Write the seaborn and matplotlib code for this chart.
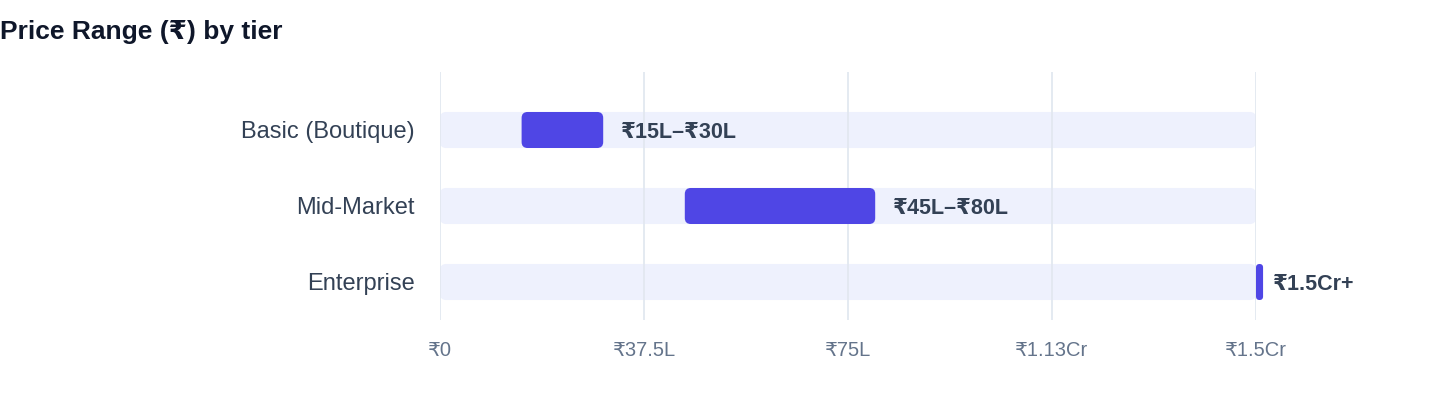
import matplotlib
matplotlib.use("Agg")
import matplotlib.pyplot as plt
import seaborn as sns
import pandas as pd
from matplotlib.patches import FancyBboxPatch

# Data (values in lakhs of rupees)
tiers = ["Basic (Boutique)", "Mid-Market", "Enterprise"]
low = [15, 45, 150]
high = [30, 80, 150]
range_labels = ["₹15L–₹30L", "₹45L–₹80L", "₹1.5Cr+"]
axis_max = 150
xticks = [0, 37.5, 75, 112.5, 150]
xtick_labels = ["₹0", "₹37.5L", "₹75L", "₹1.13Cr", "₹1.5Cr"]

INDIGO = "#4F46E5"
TRACK = "#EEF1FD"
GRID = "#E2E8F0"
DARK = "#334155"
MUTED = "#64748B"

sns.set_theme(style="white")
plt.rcParams["font.family"] = ["Liberation Sans", "DejaVu Sans"]

df = pd.DataFrame({"tier": tiers, "low": low, "high": high})
# a range that has no width still gets a small visible pill
df["width"] = (df["high"] - df["low"]).clip(lower=1.3)
df["track"] = axis_max

fig = plt.figure(figsize=(14.4, 4.08), dpi=100)
ax = fig.add_axes([440 / 1440, 1 - 320 / 408, 816 / 1440, 248 / 408])

# background track
sns.barplot(data=df, x="track", y="tier", orient="h", color=TRACK,
            width=0.474, ax=ax, zorder=0.5, saturation=1)
n_track = len(ax.patches)
# range bars
ax.barh(df["tier"], df["width"], left=df["low"], height=0.474,
        color=INDIGO, zorder=2)


def round_patches(ax, patches, radius_px, zorder):
    fig.canvas.draw()
    # px per data unit in each direction
    x0, y0 = ax.transData.transform((0, 0))
    x1, y1 = ax.transData.transform((1, 1))
    sx, sy = abs(x1 - x0), abs(y1 - y0)
    for p in patches:
        x, y = p.get_x(), p.get_y()
        w, h = p.get_width(), p.get_height()
        r = min(radius_px, w * sx / 2, h * sy / 2)
        fb = FancyBboxPatch((x, y), w, h,
                            boxstyle=f"round,pad=0,rounding_size={r / sx}",
                            mutation_aspect=sx / sy,
                            facecolor=p.get_facecolor(), edgecolor="none",
                            zorder=zorder, clip_on=False)
        p.remove()
        ax.add_patch(fb)


ax.set_xlim(0, axis_max)
ax.set_ylim(2.5, -0.763)

patches = list(ax.patches)
round_patches(ax, patches[:n_track], 6, 0.5)
round_patches(ax, patches[n_track:], 6, 2)

for i, row in df.iterrows():
    ax.annotate(range_labels[i], xy=(row["high"], i), xytext=(12.5, -1.5),
                textcoords="offset points", ha="left", va="center",
                fontsize=15.5, fontweight="bold", color=DARK)

ax.set_xticks(xticks)
ax.set_xticklabels(xtick_labels)
ax.grid(axis="x", color=GRID, linewidth=1.3)
ax.set_axisbelow("line")
for sp in ax.spines.values():
    sp.set_visible(False)
ax.tick_params(axis="x", length=0, pad=15, labelsize=14.5, labelcolor=MUTED)
ax.tick_params(axis="y", length=0, pad=18, labelsize=17, labelcolor=DARK)
ax.set_xlabel("")
ax.set_ylabel("")

fig.text(0.0, 1 - 32 / 408, "Price Range (₹) by tier", ha="left", va="center",
         fontsize=19, fontweight="bold", color="#0F172A")

fig.savefig("out.png", dpi=100)
